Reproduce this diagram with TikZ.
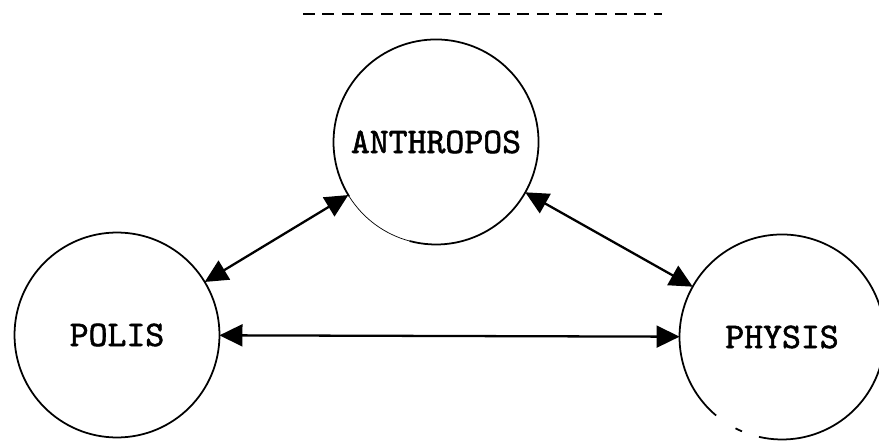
\documentclass[tikz,border=0pt]{standalone}
\usepackage{fontspec}
\newfontfamily\typewriter[FakeBold=1.6]{lmmono10-regular.otf}
\usetikzlibrary{arrows.meta}

\begin{document}
\begin{tikzpicture}[x=0.02cm,y=0.02cm]
\tikzstyle{concept}=[circle,minimum size=4.1cm,inner sep=0pt,outer sep=0pt,font=\typewriter\fontsize{20.5}{22}\selectfont]
\tikzstyle{rim}=[line width=1pt]
\tikzstyle{link}=[line width=1.3pt,{Triangle[length=0.46cm,width=0.44cm]}-{Triangle[length=0.46cm,width=0.44cm]}]
\useasboundingbox (0,0) rectangle (879,440);
\node [concept] (anthropos) at (436,298) {ANTHROPOS};
\node [concept,draw,rim] (polis) at (117,105) {POLIS};
\node [concept] (physis) at (782,103) {PHYSIS};
% outlines with the worn parts
\draw [rim] (anthropos.255) arc [start angle=255,end angle=572,radius=102.5];
\draw [line width=0.4pt] (anthropos.212) arc [start angle=212,end angle=255,radius=102.5];
\draw [rim] (physis.257) arc [start angle=257,end angle=590,radius=102.5];
\draw [rim] (physis.243) arc [start angle=243,end angle=247,radius=102.5];
\draw [link] (polis) -- (anthropos);
\draw [link] (anthropos) -- (physis);
\draw [link] (polis) -- (physis);
% rule above the diagram
\coordinate (r1) at (303,426);
\coordinate (r2) at (662,426);
\draw [line width=1.4pt,dash pattern=on 0.24cm off 0.15cm] (r1) -- (r2);
\end{tikzpicture}
\end{document}
